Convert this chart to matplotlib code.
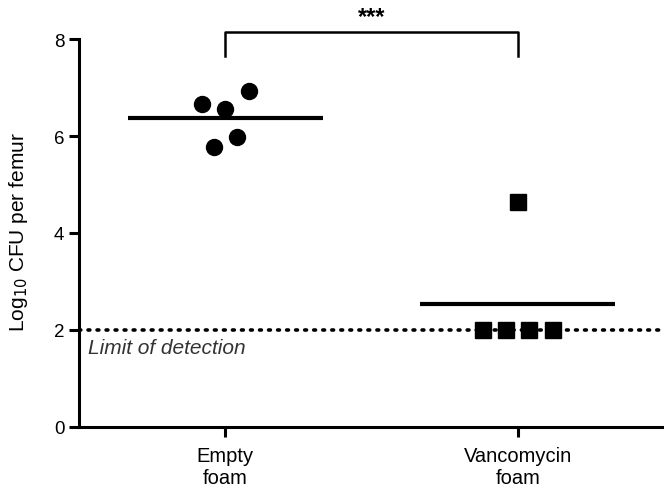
import matplotlib.pyplot as plt
import numpy as np

plt.rcParams['font.family'] = ['Liberation Sans', 'DejaVu Sans']

# data
groups = ['Empty\nfoam', 'Vancomycin\nfoam']
empty_cfu = [6.66, 6.56, 6.93, 5.77, 5.98]
empty_jitter = [-0.08, 0.0, 0.08, -0.04, 0.04]
vanco_cfu = [4.64, 2.0, 2.0, 2.0, 2.0]
vanco_jitter = [0.0, -0.12, -0.04, 0.04, 0.12]
detection_limit = 2.0
significance = '***'

fig = plt.figure(figsize=(6.64, 4.89), dpi=100)
ax = fig.add_axes([0.119, 0.125, 0.881, 0.793])

# detection limit
ax.axhline(detection_limit, color='black', linestyle=(0, (0.5, 2.0)), linewidth=2.6,
           dash_capstyle='round', zorder=1)
ax.text(0.53, detection_limit - 0.17, 'Limit of detection', style='italic',
        fontsize=15, color='#333333', va='top', ha='left')

x_pos = [1, 2]
ax.plot(np.array(empty_jitter) + x_pos[0], empty_cfu, 'o', color='black',
        markersize=11.5, zorder=3)
ax.plot(np.array(vanco_jitter) + x_pos[1], vanco_cfu, 's', color='black',
        markersize=11.5, zorder=3)

# mean lines
for x, vals in zip(x_pos, [empty_cfu, vanco_cfu]):
    m = np.mean(vals)
    ax.plot([x - 0.333, x + 0.333], [m, m], color='black', linewidth=3, zorder=2,
            solid_capstyle='butt')

# significance bracket
ax.plot([1, 1, 2, 2], [7.66, 8.14, 8.14, 7.66], color='black', linewidth=1.8,
        clip_on=False)
ax.text(1.5, 8.22, significance, ha='center', va='bottom', fontsize=17,
        fontweight='bold')

ax.set_xlim(0.5, 2.5)
ax.set_ylim(0, 8)
ax.set_yticks([0, 2, 4, 6, 8])
ax.set_xticks(x_pos)
ax.set_xticklabels(groups, fontsize=14.5, linespacing=1.15)
ax.tick_params(axis='y', labelsize=13.5, width=2.2, length=7)
ax.tick_params(axis='x', width=2.2, length=7, pad=7)
ax.set_ylabel('Log$_{10}$ CFU per femur', fontsize=15)
ax.yaxis.set_label_coords(-0.084, 0.505)

for s in ['top', 'right']:
    ax.spines[s].set_visible(False)
for s in ['left', 'bottom']:
    ax.spines[s].set_linewidth(2.2)

plt.savefig('out.png', dpi=100)
plt.close()
